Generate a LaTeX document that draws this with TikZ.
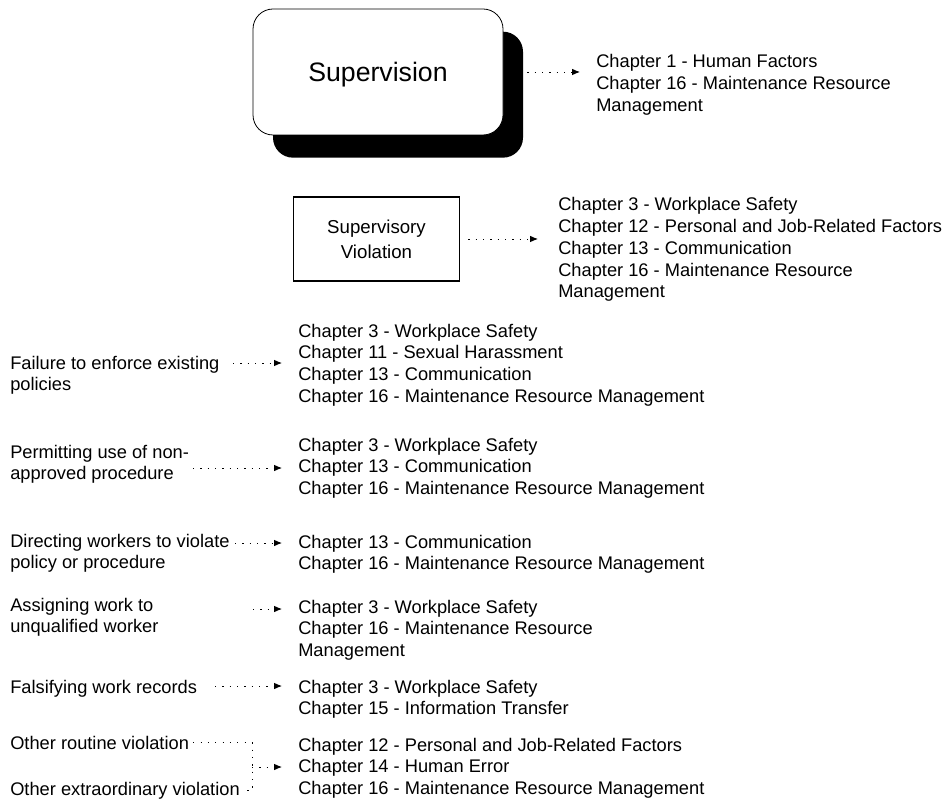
\documentclass[tikz,border=0pt]{standalone}
\usepackage{fontspec}
\setmainfont{Liberation Sans}
\usetikzlibrary{arrows.meta,shadows}
% left-aligned block of lines whose baseline is the first line
\newcommand\linestack[1]{\begin{tabular}[t]{@{}l@{}}#1\end{tabular}}

\begin{document}
\begin{tikzpicture}[x=0.75pt,y=-0.75pt,
  txt/.style={font=\fontsize{13.7}{16.3}\selectfont, inner sep=0pt, anchor=base west},
  dotline/.style={line width=0.7pt, dash pattern=on 0.9pt off 4.6pt},
  link/.style={dotline, -{Latex[length=6pt,width=5pt]}, shorten >=12pt},
  ]
\useasboundingbox (0,0) rectangle (949,809);

% top box with drop shadow
\node[draw, line width=0.6pt, rounded corners=15pt, fill=white,
      minimum width=187.5pt, minimum height=94.5pt,
      font=\fontsize{20}{24}\selectfont, text depth=0pt,
      general shadow={fill=black, shadow xshift=15pt, shadow yshift=-17pt}]
  (sup) at (378,72) {Supervision};
\node[txt] (c0) at (596,68) {\linestack{Chapter 1 - Human Factors\\Chapter 16 - Maintenance Resource\\Management}};
\draw[link, shorten <=18pt] (sup.east) -- (sup.east -| c0.west);

% second level box
\node[draw, line width=0.8pt, minimum width=125pt, minimum height=63pt,
      font=\fontsize{14}{18.5}\selectfont, align=center]
  (sv) at (376.5,239) {Supervisory\\Violation};
\node[txt] (c1) at (558,211) {\linestack{Chapter 3 - Workplace Safety\\Chapter 12 - Personal and Job-Related Factors\\Chapter 13 - Communication\\Chapter 16 - Maintenance Resource\\Management}};
\draw[link, shorten <=6pt, shorten >=15pt] (sv.east) -- (sv.east -| c1.west);

% violation types and their chapters
\node[txt] (f1) at (10,369) {\linestack{Failure to enforce existing\\policies}};
\node[txt] (k1) at (298,337) {\linestack{Chapter 3 - Workplace Safety\\Chapter 11 - Sexual Harassment\\Chapter 13 - Communication\\Chapter 16 - Maintenance Resource Management}};
\coordinate (s1) at (233,363);
\draw[link] (s1) -- (s1 -| k1.west);

\node[txt] (p1) at (10,458) {\linestack{Permitting use of non-\\approved procedure}};
\node[txt] (k2) at (298,451) {\linestack{Chapter 3 - Workplace Safety\\Chapter 13 - Communication\\Chapter 16 - Maintenance Resource Management}};
\coordinate (s2) at (193,468);
\draw[link] (s2) -- (s2 -| k2.west);

\node[txt] (d1) at (10,547) {\linestack{Directing workers to violate\\policy or procedure}};
\node[txt] (k3) at (298,548) {\linestack{Chapter 13 - Communication\\Chapter 16 - Maintenance Resource Management}};
\coordinate (s3) at (235,543);
\draw[link] (s3) -- (s3 -| k3.west);

\node[txt] (a1) at (10,611) {\linestack{Assigning work to\\unqualified worker}};
\node[txt] (k4) at (298,613) {\linestack{Chapter 3 - Workplace Safety\\Chapter 16 - Maintenance Resource\\Management}};
\coordinate (s4) at (253,609);
\draw[link] (s4) -- (s4 -| k4.west);

\node[txt] (fs) at (10,693) {Falsifying work records};
\node[txt] (k5) at (298,693) {\linestack{Chapter 3 - Workplace Safety\\Chapter 15 - Information Transfer}};
\coordinate (s5) at (215,686);
\draw[link] (s5) -- (s5 -| k5.west);

\node[txt] (r1) at (10,749) {Other routine violation};
\node[txt] (e1) at (10,795) {Other extraordinary violation};
\node[txt] (k6) at (298,751) {\linestack{Chapter 12 - Personal and Job-Related Factors\\Chapter 14 - Human Error\\Chapter 16 - Maintenance Resource Management}};
\coordinate (j1) at (252,743);
\coordinate (j3) at (252,767);
\draw[dotline] ([xshift=3pt]r1.east) -- (r1.east -| j1) -- (e1.east -| j1) -- ([xshift=2pt]e1.east);
\draw[link] (j3) -- (j3 -| k6.west);
\end{tikzpicture}
\end{document}
